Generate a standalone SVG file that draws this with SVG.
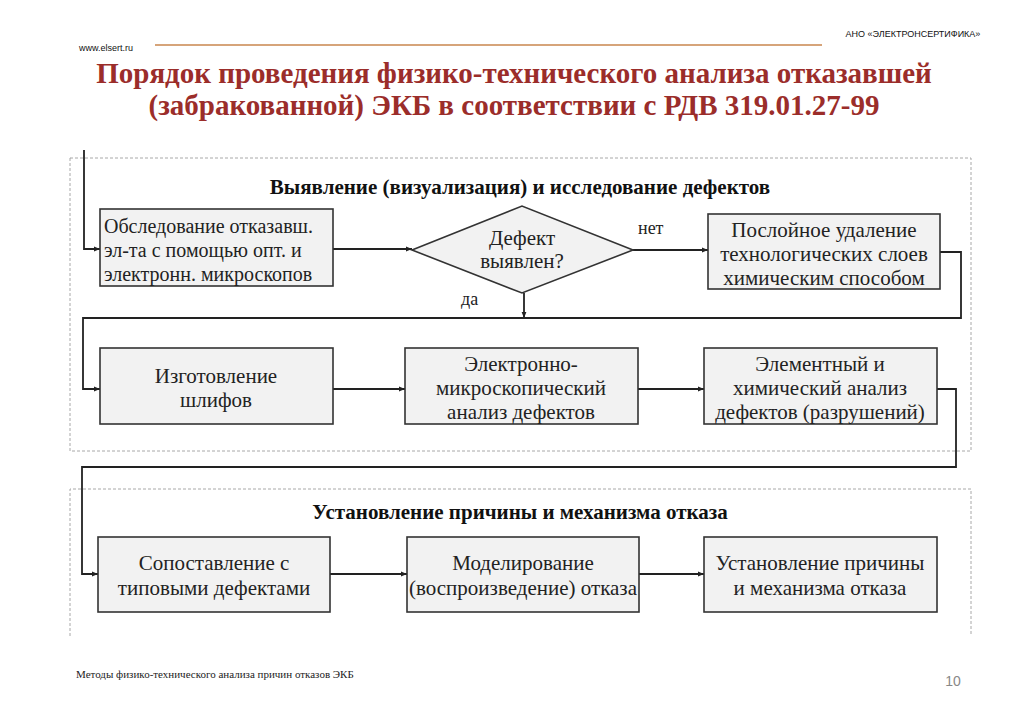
<svg xmlns="http://www.w3.org/2000/svg" width="1024" height="722" viewBox="0 0 1024 722">
<defs>
<style>
.box{fill:#f2f2f2;stroke:#333;stroke-width:1.6}
.t{font-family:"Liberation Serif","Times New Roman",serif;font-size:21px;fill:#222;text-anchor:middle}
.tl{text-anchor:start;font-size:20px}
.h{font-family:"Liberation Serif","Times New Roman",serif;font-size:21px;font-weight:bold;fill:#111;text-anchor:middle}
.lbl{font-family:"Liberation Serif","Times New Roman",serif;font-size:18px;fill:#222}
.c{fill:none;stroke:#222;stroke-width:1.8}
.dash{fill:none;stroke:#a8a8a8;stroke-width:1;stroke-dasharray:3 2}
.title{font-family:"Liberation Serif","Times New Roman",serif;font-size:29px;font-weight:bold;fill:#9b2d2a;text-anchor:middle}
</style>
<marker id="ah" viewBox="0 0 10 10" refX="10" refY="5" markerWidth="6" markerHeight="6" orient="auto" markerUnits="userSpaceOnUse">
<path d="M0,1 L10,5 L0,9 z" fill="#222"/>
</marker>
</defs>
<rect width="1024" height="722" fill="#fff"/>
<g id="header">
<text x="913" y="37" font-family="Liberation Sans,Arial,sans-serif" font-size="9" fill="#111" text-anchor="middle">АНО «ЭЛЕКТРОНСЕРТИФИКА»</text>
<text x="79" y="51" font-family="Liberation Sans,Arial,sans-serif" font-size="9" fill="#111">www.elsert.ru</text>
<line x1="155" y1="45" x2="822" y2="45" stroke="#c8864e" stroke-width="1.5"/>
<text class="title" x="514" y="83">Порядок проведения физико-технического анализа отказавшей</text>
<text class="title" x="514" y="115">(забракованной) ЭКБ в соответствии с РДВ 319.01.27-99</text>
</g>
<g id="section1">
<path class="dash" d="M70,158 H971 V451 H70 Z"/>
<text class="h" x="520" y="194">Выявление (визуализация) и исследование дефектов</text>
</g>
<g id="section2">
<path class="dash" d="M70,636 V489 H971 V636"/>
<text class="h" x="520" y="519">Установление причины и механизма отказа</text>
</g>
<g id="connectors">
<path class="c" d="M84,150 V249 H100" marker-end="url(#ah)"/>
<path class="c" d="M333,249 H412" marker-end="url(#ah)"/>
<path class="c" d="M633,250 H708" marker-end="url(#ah)"/>
<path class="c" d="M524,293 V318" marker-end="url(#ah)"/>
<path class="c" d="M940,252 H961 V318 H83 V389 H100" marker-end="url(#ah)"/>
<path class="c" d="M333,389 H405" marker-end="url(#ah)"/>
<path class="c" d="M638,389 H704" marker-end="url(#ah)"/>
<path class="c" d="M937,389 H956 V467 H82 V574 H98" marker-end="url(#ah)"/>
<path class="c" d="M330,574 H407" marker-end="url(#ah)"/>
<path class="c" d="M639,574 H704" marker-end="url(#ah)"/>
<text class="lbl" x="638" y="234">нет</text>
<text class="lbl" x="461" y="305">да</text>
</g>
<g id="n1">
<rect class="box" x="100" y="209" width="233" height="77"/>
<text class="t tl" x="104" y="233">Обследование отказавш.</text>
<text class="t tl" x="104" y="257">эл-та с помощью опт. и</text>
<text class="t tl" x="104" y="281">электронн. микроскопов</text>
</g>
<g id="n2">
<polygon class="box" points="412,250 522,206 633,250 522,293"/>
<text class="t" x="522" y="245">Дефект</text>
<text class="t" x="522" y="268">выявлен?</text>
</g>
<g id="n3">
<rect class="box" x="708" y="214" width="232" height="75"/>
<text class="t" x="824" y="237">Послойное удаление</text>
<text class="t" x="824" y="261">технологических слоев</text>
<text class="t" x="824" y="285">химическим способом</text>
</g>
<g id="n4">
<rect class="box" x="100" y="348" width="233" height="76"/>
<text class="t" x="216" y="383">Изготовление</text>
<text class="t" x="216" y="407">шлифов</text>
</g>
<g id="n5">
<rect class="box" x="405" y="348" width="233" height="76"/>
<text class="t" x="521" y="371">Электронно-</text>
<text class="t" x="521" y="395">микроскопический</text>
<text class="t" x="521" y="419">анализ дефектов</text>
</g>
<g id="n6">
<rect class="box" x="704" y="348" width="233" height="76"/>
<text class="t" x="820" y="371">Элементный и</text>
<text class="t" x="820" y="395">химический анализ</text>
<text class="t" x="820" y="419">дефектов (разрушений)</text>
</g>
<g id="n7">
<rect class="box" x="98" y="537" width="232" height="75"/>
<text class="t" x="214" y="570">Сопоставление с</text>
<text class="t" x="214" y="595">типовыми дефектами</text>
</g>
<g id="n8">
<rect class="box" x="407" y="537" width="232" height="75"/>
<text class="t" x="523" y="570">Моделирование</text>
<text class="t" x="523" y="595">(воспроизведение) отказа</text>
</g>
<g id="n9">
<rect class="box" x="704" y="537" width="233" height="75"/>
<text class="t" x="820" y="570">Установление причины</text>
<text class="t" x="820" y="595">и механизма отказа</text>
</g>
<g id="footer">
<text x="76" y="678" font-family="Liberation Serif,Times New Roman,serif" font-size="11" fill="#222">Методы физико-технического анализа причин отказов ЭКБ</text>
<text x="953" y="686" font-family="Liberation Sans,Arial,sans-serif" font-size="14" fill="#888" text-anchor="middle">10</text>
</g>
</svg>
